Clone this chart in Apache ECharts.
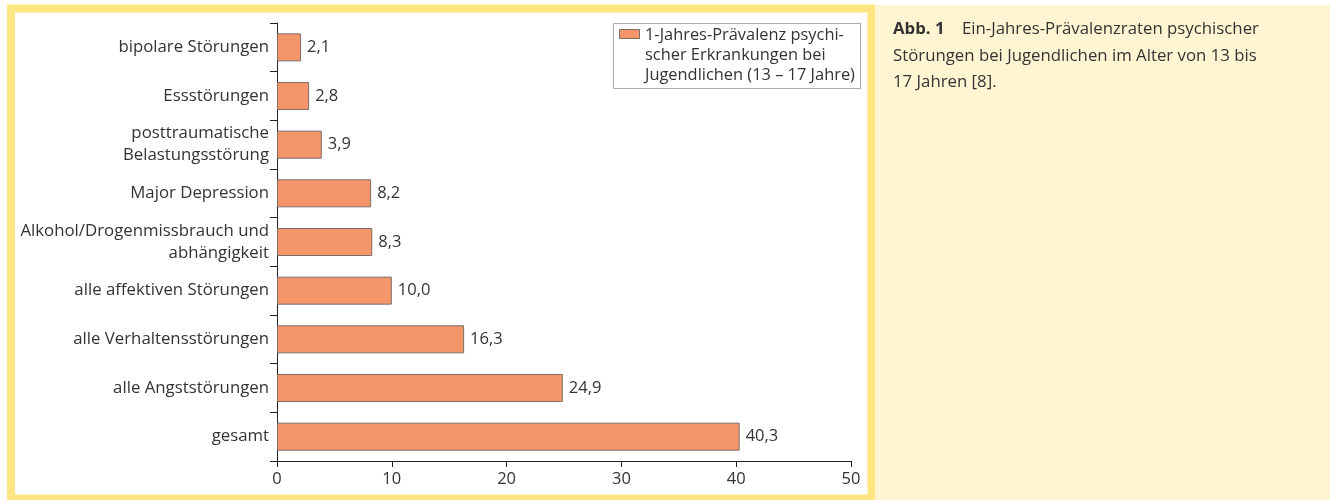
<!DOCTYPE html>
<html>
<head>
<meta charset="utf-8">
<script src="https://cdn.jsdelivr.net/npm/echarts@6/dist/echarts.min.js"></script>
<style>
html,body{margin:0;padding:0;background:#fff;}
#chart{width:1330px;height:500px;}
</style>
</head>
<body>
<div id="chart"></div>
<script>
// Kategorien von oben nach unten
var categories = [
	'bipolare Störungen',
	'Essstörungen',
	'posttraumatische\nBelastungsstörung',
	'Major Depression',
	'Alkohol/Drogenmissbrauch und\nabhängigkeit',
	'alle affektiven Störungen',
	'alle Verhaltensstörungen',
	'alle Angststörungen',
	'gesamt'
];
var values = [2.1, 2.8, 3.9, 8.2, 8.3, 10.0, 16.3, 24.9, 40.3];
var seriesName = '1-Jahres-Prävalenz psychi-\nscher Erkrankungen bei\nJugendlichen (13 – 17 Jahre)';
var xTicks = [0, 10, 20, 30, 40, 50];
var captionLines = [
	'Ein-Jahres-Prävalenzraten psychischer',
	'Störungen bei Jugendlichen im Alter von 13 bis',
	'17 Jahren [8].'
];

var font = 'Open Sans';
var barColor = '#F4956A', barBorder = '#7d6d66';
var mycharts = echarts.init(document.getElementById('chart'));
var option = {
	animation: false,
	textStyle: { fontFamily: font },
	graphic: [
		{
			type: 'rect', z: -10,
			shape: { x: 11, y: 8.5, width: 860.5, height: 490 },
			style: { fill: '#fff', stroke: '#FFE682', lineWidth: 8 }
		},
		{
			type: 'rect', z: -10,
			shape: { x: 876, y: 5, width: 454, height: 495 },
			style: { fill: '#FFF5D2' }
		},
		{
			type: 'text', left: 893, top: 16,
			style: {
				text: '{b|Abb. 1}    ' + captionLines.join('\n'),
				font: '16.8px "' + font + '"',
				fill: '#333',
				lineHeight: 26.5,
				rich: { b: { fontWeight: 'bold', fontSize: 16.8, fontFamily: font, fill: '#333', lineHeight: 26.5 } }
			}
		},
		// Legende
		{
			type: 'rect',
			shape: { x: 613.5, y: 23.5, width: 247, height: 65 },
			style: { fill: '#fff', stroke: '#aaa', lineWidth: 1 }
		},
		{
			type: 'rect',
			shape: { x: 619.5, y: 29.5, width: 20, height: 9 },
			style: { fill: barColor, stroke: barBorder, lineWidth: 1 }
		},
		{
			type: 'text', left: 645, top: 25,
			style: {
				text: seriesName,
				font: '16.4px "' + font + '"',
				fill: '#333',
				lineHeight: 20,
				align: 'left'
			}
		}
	],
	grid: { left: 277, right: 479, top: 23, bottom: 39 },
	xAxis: {
		type: 'value',
		min: 0, max: 50, interval: 10,
		splitLine: { show: false },
		axisLine: { show: true, lineStyle: { color: '#222' } },
		axisTick: { show: true, length: 6, lineStyle: { color: '#222' } },
		axisLabel: { fontSize: 16.5, color: '#333', margin: 10, fontFamily: font,
			formatter: function (v) { return xTicks.indexOf(v) > -1 ? String(v) : ''; } }
	},
	yAxis: {
		type: 'category',
		inverse: true,
		data: categories,
		axisLine: { show: true, lineStyle: { color: '#222' } },
		axisTick: { show: true, length: 7, lineStyle: { color: '#222' } },
		axisLabel: { fontSize: 16.8, color: '#333', margin: 8, lineHeight: 22, fontFamily: font }
	},
	series: [{
		name: seriesName,
		type: 'bar',
		data: values,
		barWidth: 28,
		itemStyle: { color: barColor, borderColor: barBorder, borderWidth: 1 },
		label: {
			show: true, position: 'right', distance: 6,
			fontSize: 16.5, color: '#333', fontFamily: font,
			formatter: function (p) { return p.value.toFixed(1).replace('.', ','); }
		}
	}]
};
mycharts.setOption(option);
</script>
</body>
</html>
